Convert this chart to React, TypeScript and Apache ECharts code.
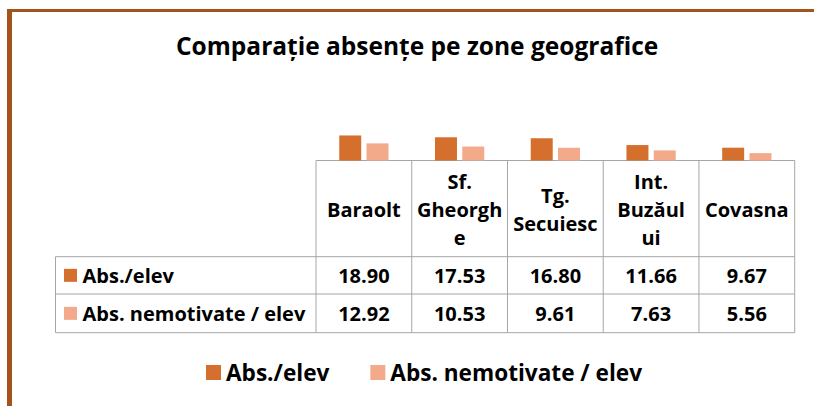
import React, { useEffect, useRef } from "react";
import * as echarts from "echarts";

const title = "Comparație absențe pe zone geografice";
const categories = ["Baraolt", "Sf. Gheorghe", "Tg. Secuiesc", "Int. Buzăului", "Covasna"];
const headerLabels = ["Baraolt", "Sf.\nGheorgh\ne", "Tg.\nSecuiesc", "Int.\nBuzăul\nui", "Covasna"];
const seriesNames = ["Abs./elev", "Abs. nemotivate / elev"];
const absPerStudent = [18.9, 17.53, 16.8, 11.66, 9.67];
const unexcusedPerStudent = [12.92, 10.53, 9.61, 7.63, 5.56];

const FONT = "'Open Sans', 'DejaVu Sans', sans-serif";
const DARK = "#D46F2D";
const LIGHT = "#F3AA8B";
const GRID_COLOR = "#A6A6A6";
const FRAME = "#A3531B";

const W = 814;
const H = 406;
const GRID_LEFT = 316;
const GRID_RIGHT_X = 794.7;
const GRID_TOP = 134;
const AXIS_Y = 160.5;
const TABLE_LEFT = 55.5;
const HEADER_BOTTOM = 256.7;
const ROW_MID = 294;
const TABLE_BOTTOM = 332.7;

export default function App() {
  const ref = useRef<HTMLDivElement>(null);
  useEffect(() => {
    if (!ref.current) return;
    const chart = echarts.init(ref.current, undefined, { renderer: "svg" });
    const colW = (GRID_RIGHT_X - GRID_LEFT) / categories.length;
    const lineStyle = { stroke: GRID_COLOR, lineWidth: 1 };
    const graphics: any[] = [];
    // frame
    graphics.push({ type: "rect", shape: { x: 7, y: 9, width: W - 7, height: 3 }, style: { fill: FRAME }, silent: true });
    graphics.push({ type: "rect", shape: { x: 7, y: 9, width: 5, height: H - 9 }, style: { fill: FRAME }, silent: true });
    const hl = (x1: number, x2: number, y: number) =>
      graphics.push({ type: "line", shape: { x1, y1: y, x2, y2: y }, style: lineStyle, silent: true });
    const vl = (x: number, y1: number, y2: number) =>
      graphics.push({ type: "line", shape: { x1: x, y1, x2: x, y2 }, style: lineStyle, silent: true });
    hl(GRID_LEFT, GRID_RIGHT_X, AXIS_Y);
    hl(TABLE_LEFT, GRID_RIGHT_X, HEADER_BOTTOM);
    hl(TABLE_LEFT, GRID_RIGHT_X, ROW_MID);
    hl(TABLE_LEFT, GRID_RIGHT_X, TABLE_BOTTOM);
    for (let i = 0; i <= categories.length; i++) vl(GRID_LEFT + i * colW, AXIS_Y, TABLE_BOTTOM);
    vl(TABLE_LEFT, HEADER_BOTTOM, TABLE_BOTTOM);

    const rows = [absPerStudent, unexcusedPerStudent];
    const rowColors = [DARK, LIGHT];
    const rowCenters = [(HEADER_BOTTOM + ROW_MID) / 2, (ROW_MID + TABLE_BOTTOM) / 2];
    rows.forEach((vals, r) => {
      const cy = rowCenters[r];
      graphics.push({ type: "rect", shape: { x: 64, y: cy - 6.5, width: 13, height: 13 }, style: { fill: rowColors[r] }, silent: true });
      graphics.push({
        type: "text", x: 82.5, y: cy,
        style: { text: seriesNames[r], font: `bold 20px ${FONT}`, fill: "#000", textAlign: "left", textVerticalAlign: "middle" },
        silent: true,
      });
      vals.forEach((v, i) => {
        graphics.push({
          type: "text", x: GRID_LEFT + (i + 0.5) * colW, y: cy,
          style: { text: v.toFixed(2), font: `bold 20px ${FONT}`, fill: "#000", textAlign: "center", textVerticalAlign: "middle" },
          silent: true,
        });
      });
    });

    chart.setOption({
      animation: false,
      backgroundColor: "#fff",
      title: {
        text: title,
        left: 176,
        top: 33,
        padding: 0,
        textStyle: { fontFamily: FONT, fontWeight: "bold", fontSize: 24.5, color: "#000" },
      },
      legend: {
        data: seriesNames,
        left: 201,
        top: 356,
        itemWidth: 15,
        itemHeight: 15,
        itemGap: 41,
        icon: "rect",
        textStyle: { fontFamily: FONT, fontWeight: "bold", fontSize: 22.6, color: "#000" },
      },
      grid: { left: GRID_LEFT, right: W - GRID_RIGHT_X, top: GRID_TOP, bottom: H - AXIS_Y },
      xAxis: {
        type: "category",
        data: categories,
        axisLine: { show: false },
        axisTick: { show: false },
        axisLabel: {
          interval: 0,
          margin: 49,
          verticalAlign: "middle",
          lineHeight: 28,
          fontFamily: FONT,
          fontWeight: "bold",
          fontSize: 20,
          color: "#000",
          formatter: (_v: string, i: number) => headerLabels[i],
        },
      },
      yAxis: { type: "value", min: 0, max: 20, show: false, splitLine: { show: false } },
      series: [
        { name: seriesNames[0], type: "bar", data: absPerStudent, barWidth: 22, barGap: "24%", itemStyle: { color: DARK } },
        { name: seriesNames[1], type: "bar", data: unexcusedPerStudent, barWidth: 22, barGap: "24%", itemStyle: { color: LIGHT } },
      ],
      graphic: graphics,
    });
    return () => chart.dispose();
  }, []);
  return <div ref={ref} style={{ position: "fixed", left: 0, top: 0, width: W, height: H }} />;
}
